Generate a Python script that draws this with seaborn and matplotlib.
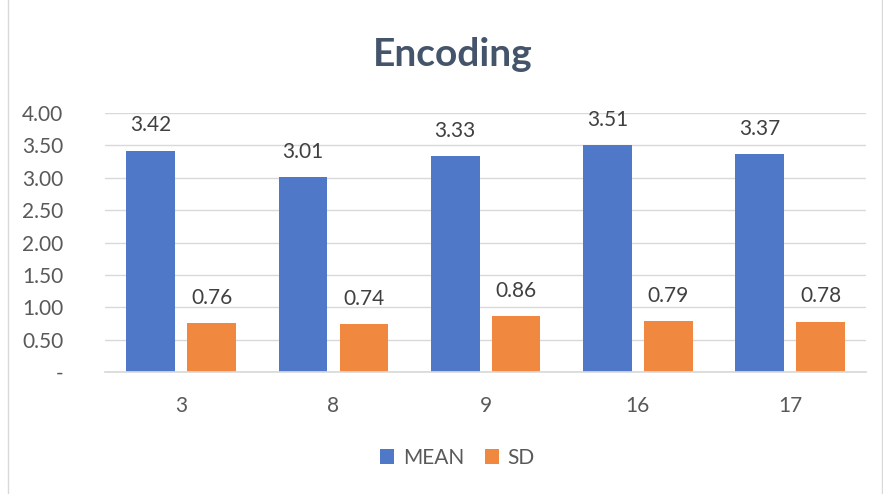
import matplotlib
matplotlib.use("Agg")
import matplotlib.pyplot as plt
import seaborn as sns
import pandas as pd
from matplotlib.patches import Rectangle

items = ["3", "8", "9", "16", "17"]
mean_vals = [3.42, 3.01, 3.33, 3.51, 3.37]
sd_vals = [0.76, 0.74, 0.86, 0.79, 0.78]
series = ["MEAN", "SD"]
yticks = [0, 0.5, 1.0, 1.5, 2.0, 2.5, 3.0, 3.5, 4.0]
colors = {"MEAN": "#4F79C8", "SD": "#F0883F"}

df = pd.DataFrame({
    "item": items * 2,
    "value": mean_vals + sd_vals,
    "series": [series[0]] * len(items) + [series[1]] * len(items),
})

sns.set_theme(style="white")
plt.rcParams["font.family"] = ["Lato", "DejaVu Sans"]

fig = plt.figure(figsize=(8.83, 4.94), dpi=100)
ax = fig.add_axes([0.119, 0.247, 0.862, 0.524])

sns.barplot(data=df, x="item", y="value", hue="series", order=items,
            hue_order=series, palette=colors, width=0.8, gap=0.2,
            saturation=1, linewidth=0, ax=ax, legend=True)

text_col = "#595959"
for cont in ax.containers:
    ax.bar_label(cont, labels=[f"{v:.2f}" for v in cont.datavalues],
                 padding=11, fontsize=15, color="#404040")

ax.set_ylim(0, 4.0)
ax.set_xlim(-0.5, 4.5)
ax.set_yticks(yticks)
ax.set_yticklabels(["-" if v == 0 else f"{v:.2f}" for v in yticks],
                   fontsize=15, color=text_col)
ax.tick_params(axis="x", labelsize=15, labelcolor=text_col, pad=17, length=0)
ax.tick_params(axis="y", length=0, pad=30)
ax.set_xlabel("")
ax.set_ylabel("")
ax.grid(axis="y", color="#D9D9D9", linewidth=1)
ax.set_axisbelow(True)
for s in ["top", "right", "left"]:
    ax.spines[s].set_visible(False)
ax.spines["bottom"].set_color("#D9D9D9")

ax.legend_.remove()
handles, labels = ax.get_legend_handles_labels()
fig.legend(handles[:2], labels[:2], loc="center", bbox_to_anchor=(0.518, 0.073),
           ncol=2, frameon=False, fontsize=15, handlelength=0.7,
           handleheight=0.7, columnspacing=1.0, handletextpad=0.4,
           labelcolor=text_col)

fig.suptitle("Encoding", x=0.513, y=0.925, fontsize=28, fontweight="bold",
             color="#44546A")

fig.patches.append(Rectangle((0.009, -0.01), 0.99, 1.02, transform=fig.transFigure,
                             fill=False, edgecolor="#D9D9D9", linewidth=1))

fig.savefig("out.png", dpi=100)
